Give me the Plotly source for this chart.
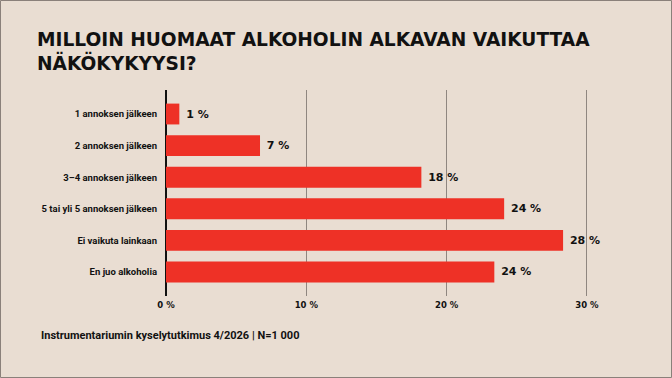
import plotly.graph_objects as go

categories = ["1 annoksen jälkeen", "2 annoksen jälkeen", "3–4 annoksen jälkeen",
              "5 tai yli 5 annoksen jälkeen", "Ei vaikuta lainkaan", "En juo alkoholia"]
values = [0.95, 6.7, 18.2, 24.1, 28.3, 23.4]
value_labels = ["1 %", "7 %", "18 %", "24 %", "28 %", "24 %"]
tick_vals = [0, 10, 20, 30]
tick_text = ["0 %", "10 %", "20 %", "30 %"]

W, H = 672, 378
ML, MR, MT, MB = 166, 57, 90, 82
PW, PH = W - ML - MR, H - MT - MB

BG = "#e9ddd2"
RED = "#ee3126"
GRID = "#8f8680"

fig = go.Figure(go.Bar(
    y=categories, x=values, orientation="h",
    marker=dict(color=RED, line=dict(width=0)),
    width=0.66,
    text=value_labels, texttemplate=" %{text}", textposition="outside", cliponaxis=False,
    textfont=dict(family="DejaVu Sans", size=11, color="#111111", weight="bold"),
    hoverinfo="skip",
))

fig.update_layout(
    width=W, height=H,
    margin=dict(l=ML, r=MR, t=MT, b=MB),
    paper_bgcolor=BG, plot_bgcolor=BG,
    showlegend=False,
    bargap=0.34,
    xaxis=dict(range=[0, 32], tickvals=tick_vals, ticktext=tick_text,
               showgrid=True, gridcolor=GRID, gridwidth=1,
               zeroline=True, zerolinecolor="#111111", zerolinewidth=1.5,
               showline=False, ticks="",
               tickfont=dict(family="DejaVu Sans", size=8.5, color="#111111", weight="bold"),
               ticklabelstandoff=2, fixedrange=True),
    yaxis=dict(autorange=False, range=[5.76, -0.76], showgrid=False, zeroline=False,
               tickfont=dict(family="Roboto", size=9.5, color="#111111", weight="bold"),
               ticks="", ticklabelstandoff=8, fixedrange=True),
    annotations=[
        dict(text="MILLOIN HUOMAAT ALKOHOLIN ALKAVAN VAIKUTTAA<br>NÄKÖKYKYYSI?",
             xref="paper", yref="paper", x=-(ML - 35) / PW, y=1 + (MT - 27) / PH,
             xanchor="left", yanchor="top", align="left", showarrow=False,
             font=dict(family="DejaVu Sans", size=18.6, color="#111111", weight="bold")),
        dict(text="Instrumentariumin kyselytutkimus 4/2026 | N=1 000",
             xref="paper", yref="paper", x=-(ML - 39) / PW, y=-(335 - (MT + PH)) / PH,
             xanchor="left", yanchor="middle", showarrow=False,
             font=dict(family="Roboto", size=11, color="#111111", weight="bold")),
    ],
    shapes=[
        dict(type="rect", xref="paper", yref="paper",
             x0=-(ML - 0.5) / PW, x1=1 + (MR - 0.5) / PW,
             y0=-(MB - 0.5) / PH, y1=1 + (MT - 0.5) / PH,
             line=dict(color="#8a807a", width=1), layer="below"),
    ],
)

fig.write_html("out.html", config={"displayModeBar": False},
               post_script="document.body.style.margin='0';document.body.style.background='#e9ddd2';")
